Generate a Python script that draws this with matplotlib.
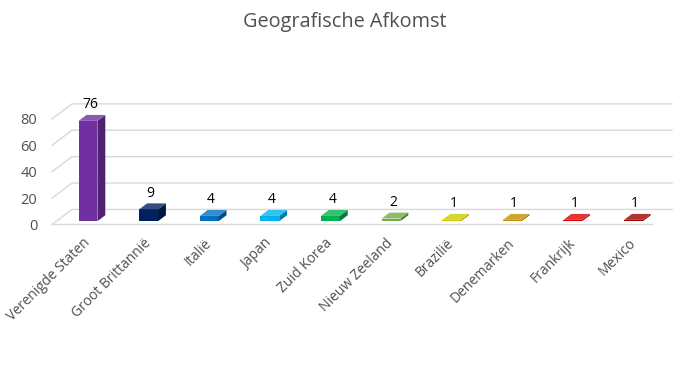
import matplotlib
matplotlib.use("Agg")
import matplotlib.pyplot as plt
import matplotlib.colors as mcolors
from matplotlib.patches import Polygon

# Gegevens
landen = ["Verenigde Staten", "Groot Brittannië", "Italië", "Japan", "Zuid Korea",
          "Nieuw Zeeland", "Brazilië", "Denemarken", "Frankrijk", "Mexico"]
aantallen = [76, 9, 4, 4, 4, 2, 1, 1, 1, 1]
kleuren = ["#7030A0", "#002060", "#0070C0", "#00B0F0", "#00B050",
           "#70AD47", "#CCCC00", "#C09000", "#E00000", "#A00000"]
y_ticks = [0, 20, 40, 60, 80]
titel = "Geografische Afkomst"

plt.rcParams['font.family'] = ['Open Sans', 'DejaVu Sans']
tekst_kleur = "#505050"
grid_kleur = "#D9D9D9"


def tint(c, f):
    r, g, b = mcolors.to_rgb(c)
    if f < 1:
        return (r * f, g * f, b * f)
    f = f - 1
    return (r + (1 - r) * f, g + (1 - g) * f, b + (1 - b) * f)


fig = plt.figure(figsize=(6.9, 3.71), dpi=100)
ax = fig.add_axes([0.0661, 0.3771, 0.9134, 0.3736])
ax.set_xlim(-0.7, 9.7)
ax.set_ylim(-5, 100)

# schuine 3D-wanden
wall_dx, wall_dy = 0.33, 11.4
links, rechts = -0.594, 9.307
for t in y_ticks:
    ax.plot([links, links + wall_dx, rechts + wall_dx], [t, t + wall_dy, t + wall_dy],
            color=grid_kleur, lw=1, zorder=1, clip_on=False)
ax.plot([links, rechts], [0, 0], color=grid_kleur, lw=1, zorder=1, clip_on=False)

# balken met zij- en bovenvlak
bar_w, bar_dx, bar_dy, bar_b = 0.31, 0.13, 4.5, 2.5
x = list(range(len(landen)))
ax.bar(x, aantallen, width=bar_w, bottom=bar_b, color=kleuren, zorder=3)
for xi, v, c in zip(x, aantallen, kleuren):
    l, r = xi - bar_w / 2, xi + bar_w / 2
    top = bar_b + v
    ax.add_patch(Polygon([(r, bar_b), (r + bar_dx, bar_b + bar_dy),
                          (r + bar_dx, top + bar_dy), (r, top)],
                         closed=True, color=tint(c, 0.7), lw=0, zorder=3))
    ax.add_patch(Polygon([(l, top), (r, top), (r + bar_dx, top + bar_dy),
                          (l + bar_dx, top + bar_dy)],
                         closed=True, color=tint(c, 1.2), lw=0, zorder=4))
    ax.annotate(str(v), (xi + 0.03, top + bar_dy), xytext=(0, 2),
                textcoords='offset points', ha='center', va='bottom',
                fontsize=10, color="black", zorder=5)

ax.set_yticks(y_ticks)
ax.set_xticks(x)
ax.set_xticklabels(landen, rotation=45, ha='right', va='center', rotation_mode='anchor')
ax.tick_params(axis='y', length=0, pad=6, labelsize=10.5, labelcolor=tekst_kleur)
ax.tick_params(axis='x', length=0, pad=7, labelsize=10, labelcolor=tekst_kleur)
for s in ax.spines.values():
    s.set_visible(False)

fig.text(0.5, 0.941, titel, ha='center', va='center', fontsize=14.3, color=tekst_kleur)

fig.savefig("out.png", dpi=100, facecolor="white")
